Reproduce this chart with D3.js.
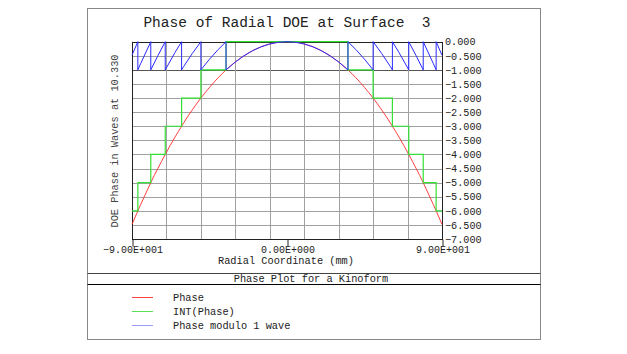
<!DOCTYPE html>
<html>
<head>
<meta charset="utf-8">
<script src="https://cdn.jsdelivr.net/npm/d3@7"></script>
<style>
  body { margin: 0; background: #fff; }
  svg text { font-family: "Liberation Mono", "DejaVu Sans Mono", monospace; fill: #222; }
</style>
</head>
<body>
<div id="chart"></div>
<script>
// radial coordinate (mm) and phase (waves)
const radius = [-90, -86.6, -85, -80, -79.1, -75, -70.7, -65, -61.2, -60, -55, -50, -45, -40, -35.4,
  -30, -25, -20, -15, -10, -5, 0, 5, 10, 15, 20, 25, 30,
  35.4, 40, 45, 50, 55, 60, 61.2, 65, 70.7, 75, 79.1, 80, 85, 86.6, 90]
const phase = [-6.48, -6, -5.78, -5.12, -5, -4.5, -4, -3.38, -3, -2.88, -2.42, -2, -1.62, -1.28, -1,
  -0.72, -0.5, -0.32, -0.18, -0.08, -0.02, 0, -0.02, -0.08, -0.18, -0.32, -0.5, -0.72,
  -1, -1.28, -1.62, -2, -2.42, -2.88, -3, -3.38, -4, -4.5, -5, -5.12, -5.78, -6, -6.48]
// INT(Phase) steps
const intBreaks = [-90, -86.6, -79.1, -70.7, -61.2, -50, -35.4, 35.4, 50, 61.2, 70.7, 79.1, 86.6, 90]
const intLevels = [-6, -5, -4, -3, -2, -1, 0, -1, -2, -3, -4, -5, -6]

const xTicks = [-90, 0, 90]
const xTickLabels = ['−9.00E+001', '0.00E+000', '9.00E+001']
const xGrid = [-90, -70, -50, -30, -10, 10, 30, 50, 70, 90]
const yTicks = [0, -0.5, -1, -1.5, -2, -2.5, -3, -3.5, -4, -4.5, -5, -5.5, -6, -6.5, -7]
const legendItems = ['Phase', 'INT(Phase)', 'Phase modulo 1 wave']
const legendColors = ['#ff4040', '#55e055', '#9a9aff']

const w = 627, h = 354
const plot = { left: 132, right: 442, top: 41.7, bottom: 239 }

let svg = d3.select('#chart').append('svg').attr('width', w).attr('height', h)

// outer frame
svg.append('rect').attr('x', 87.5).attr('y', 8.5).attr('width', 453).attr('height', 331)
  .attr('fill', 'none').attr('stroke', '#888')
svg.append('line').attr('x1', 87.5).attr('x2', 540.5).attr('y1', 273.5).attr('y2', 273.5)
  .attr('stroke', '#444')
svg.append('line').attr('x1', 87.5).attr('x2', 540.5).attr('y1', 284.5).attr('y2', 284.5)
  .attr('stroke', '#000')

let xScale = d3.scaleLinear().domain([-90, 90]).range([plot.left, plot.right])
let yScale = d3.scaleLinear().domain([-7, 0]).range([plot.bottom, plot.top])

// grid
let grid = svg.append('g').classed('grid', true)
grid.selectAll('line.h').data(yTicks).enter().append('line').classed('h', true)
  .attr('x1', plot.left).attr('x2', plot.right)
  .attr('y1', d => Math.round(yScale(d)) + 0.5).attr('y2', d => Math.round(yScale(d)) + 0.5)
  .attr('stroke', d => d === -1 ? '#555' : '#a0a0a0')
grid.selectAll('line.v').data(xGrid).enter().append('line').classed('v', true)
  .attr('x1', d => Math.round(xScale(d)) + 0.5).attr('x2', d => Math.round(xScale(d)) + 0.5)
  .attr('y1', plot.top).attr('y2', plot.bottom)
  .attr('stroke', '#a0a0a0')

// plot border
svg.append('rect').attr('x', plot.left + 0.5).attr('y', Math.round(plot.top) + 0.5)
  .attr('width', plot.right - plot.left).attr('height', Math.round(plot.bottom) - Math.round(plot.top))
  .attr('fill', 'none').attr('stroke', '#222')

// x axis
let xAxis = d3.axisBottom(xScale).tickValues(xTicks).tickSize(7)
  .tickFormat((d, i) => xTickLabels[i])
let xAxisDom = svg.append('g').attr('transform', `translate(0.5, ${Math.round(plot.bottom) + 0.5})`).call(xAxis)
xAxisDom.select('.domain').remove()
xAxisDom.selectAll('line').attr('stroke', '#222')
xAxisDom.selectAll('text').attr('dy', null).attr('y', 13.5)
  .style('font-size', '10px').style('fill', '#222')

// right y axis
let yAxis = d3.axisRight(yScale).tickValues(yTicks).tickSize(0).tickPadding(3)
  .tickFormat(d3.format('.3f'))
let yAxisDom = svg.append('g').attr('transform', `translate(${plot.right}, 0)`).call(yAxis)
yAxisDom.select('.domain').remove()
yAxisDom.selectAll('text').style('font-size', '10.2px').style('fill', '#222')

// phase (red)
let line = d3.line().x(d => xScale(d[0])).y(d => yScale(d[1])).curve(d3.curveMonotoneX)
let phasePts = radius.map((r, i) => [r, phase[i]])
svg.append('path').attr('d', line(phasePts))
  .attr('fill', 'none').attr('stroke', '#ff2a2a').attr('stroke-width', 0.9)

// INT(Phase) (green)
let intPts = intLevels.map((l, i) => [intBreaks[i], l])
intPts.push([intBreaks[intBreaks.length - 1], intLevels[intLevels.length - 1]])
let stepLine = d3.line().x(d => xScale(d[0])).y(d => yScale(d[1])).curve(d3.curveStepAfter)
svg.append('path').attr('d', stepLine(intPts))
  .attr('fill', 'none').attr('stroke', '#33e033').attr('stroke-width', 1.2)

// phase modulo 1 wave (blue)
let modPts = []
intLevels.forEach((l, k) => {
  let b0 = intBreaks[k], b1 = intBreaks[k + 1]
  radius.forEach((r, i) => {
    if (r >= b0 && r <= b1) modPts.push([r, phase[i] - l])
  })
})
let modLine = d3.line().x(d => xScale(d[0])).y(d => yScale(d[1]))
svg.append('path').attr('d', modLine(modPts))
  .attr('fill', 'none').attr('stroke', '#2a2aff').attr('stroke-width', 1)

// titles
svg.append('text').text('Phase of Radial DOE at Surface  3')
  .attr('x', 287).attr('y', 27).attr('text-anchor', 'middle')
  .style('font-size', '14.5px').style('white-space', 'pre')
svg.append('text').text('Radial Coordinate (mm)')
  .attr('x', 286).attr('y', 264).attr('text-anchor', 'middle').style('font-size', '10.3px')
svg.append('text').text('DOE Phase in Waves at 10.330')
  .attr('transform', `translate(118, 141) rotate(-90)`).attr('text-anchor', 'middle')
  .style('font-size', '10.3px').style('fill', '#444')
svg.append('text').text('Phase Plot for a Kinoform')
  .attr('x', 311).attr('y', 282).attr('text-anchor', 'middle').style('font-size', '10.3px')

// legend
let legend = svg.append('g').classed('legend', true)
legend.selectAll('g').data(legendItems).enter().append('g')
  .each(function (d, i) {
    let g = d3.select(this)
    let ly = 297.5 + i * 14
    g.append('line').attr('x1', 132).attr('x2', 153).attr('y1', ly).attr('y2', ly)
      .attr('stroke', legendColors[i])
    g.append('text').text(d).attr('x', 173).attr('y', ly + 3.5).style('font-size', '10.3px')
  })
</script>
</body>
</html>
